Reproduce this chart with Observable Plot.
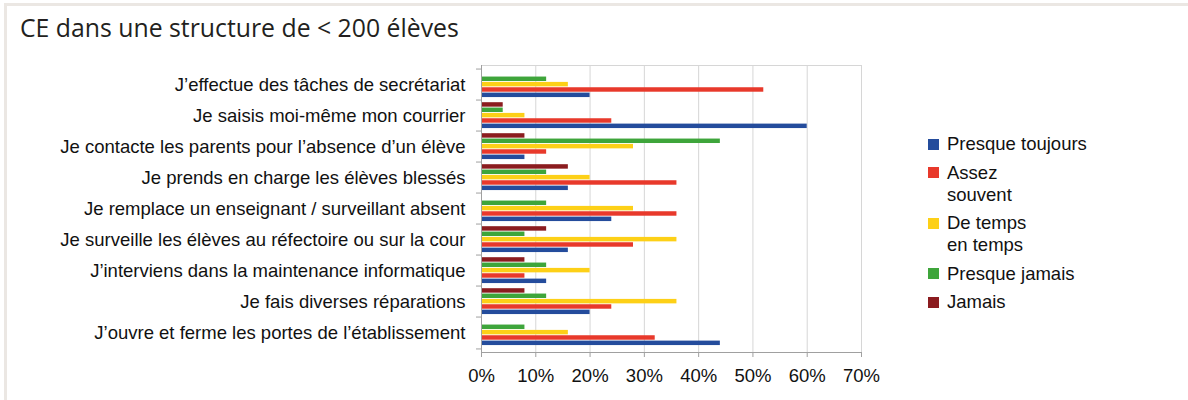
<!DOCTYPE html>
<html><head><meta charset="utf-8">
<script src="https://cdn.jsdelivr.net/npm/d3@7"></script>
<script src="https://cdn.jsdelivr.net/npm/@observablehq/plot@0.6"></script>
<style>
body{margin:0;background:#fff;}
#wrap{position:relative;width:1188px;height:400px;overflow:hidden;background:#fff;}
#frame{position:absolute;left:4px;top:3px;right:-10px;bottom:-10px;border-top:3px solid #ebe7e3;border-left:3px solid #ebe7e3;}
#title{position:absolute;left:20px;top:15px;font-family:"Open Sans";font-size:24.8px;line-height:1;color:#231f20;white-space:nowrap;}
#legend{position:absolute;left:928px;top:133px;font-family:"Liberation Sans",Arial,sans-serif;font-size:18.5px;color:#111;}
.item{display:flex;align-items:flex-start;margin-bottom:6.5px;line-height:22px;}
.sw{width:11px;height:11px;margin-top:5.5px;margin-right:8px;flex:none;}
.lab{white-space:pre-line;}
#chart svg{position:absolute;left:0;top:0;}
</style></head>
<body>
<div id="wrap">
  <div id="frame"></div>
  <div id="chart"></div>
  <div id="title">CE dans une structure de &lt; 200 élèves</div>
  <div id="legend"></div>
</div>
<script>
const categories = [
  "J’effectue des tâches de secrétariat",
  "Je saisis moi-même mon courrier",
  "Je contacte les parents pour l’absence d’un élève",
  "Je prends en charge les élèves blessés",
  "Je remplace un enseignant / surveillant absent",
  "Je surveille les élèves au réfectoire ou sur la cour",
  "J’interviens dans la maintenance informatique",
  "Je fais diverses réparations",
  "J’ouvre et ferme les portes de l’établissement"
];
const series = ["Presque toujours", "Assez souvent", "De temps en temps", "Presque jamais", "Jamais"];
const legendLabels = ["Presque toujours", "Assez\nsouvent", "De temps\nen temps", "Presque jamais", "Jamais"];
const colors = ["#244c9c", "#e8392b", "#fdd017", "#3ea53b", "#8b1c1f"];

const presqueToujours = [20, 60, 8, 16, 24, 16, 12, 20, 44];
const assezSouvent    = [52, 24, 12, 36, 36, 28, 8, 24, 32];
const deTempsEnTemps  = [16, 8, 28, 20, 28, 36, 20, 36, 16];
const presqueJamais   = [12, 4, 44, 12, 12, 8, 12, 12, 8];
const jamais          = [0, 4, 8, 16, 0, 12, 8, 8, 0];
const xTicks = [0, 10, 20, 30, 40, 50, 60, 70];

const values = [presqueToujours, assezSouvent, deTempsEnTemps, presqueJamais, jamais];
const table = [];
categories.forEach((c, ci) => series.forEach((s, si) => table.push({category: c, series: s, value: values[si][ci]})));

const W = 1188, H = 400, mt = 65, mb = 48, ml = 481, mr = 327;
const bandH = (H - mt - mb) / categories.length;
const barH = 5.35, padTop = 2.2;
const drawOrder = [4, 3, 2, 1, 0]; // top to bottom inside each band

const chart = Plot.plot({
  width: W, height: H,
  marginTop: mt, marginBottom: mb, marginLeft: ml, marginRight: mr,
  style: {fontFamily: "'Liberation Sans', Arial, sans-serif", fontSize: "18.5px", color: "#111", background: "transparent"},
  x: {domain: [0, 70], label: null},
  y: {domain: categories, padding: 0, label: null},
  marks: [
    Plot.ruleX(xTicks.slice(1), {stroke: "#d6d6d6"}),
    Plot.frame({anchor: "top", stroke: "#d6d6d6"}),
    ...drawOrder.map((si, pos) => Plot.barX(table.filter(d => d.series === series[si]), {
      x: "value", y: "category", fill: colors[si],
      insetTop: padTop + pos * barH,
      insetBottom: bandH - padTop - (pos + 1) * barH
    })),
    Plot.ruleX([0], {stroke: "#a0a0a0"}),
    Plot.frame({anchor: "bottom", stroke: "#a0a0a0"}),
    Plot.axisX({ticks: xTicks, tickFormat: d => d + "%", tickSize: 5, tickPadding: 11, stroke: "#a0a0a0", label: null}),
    Plot.axisY({tickSize: 0, tickPadding: 16, label: null}),
    Plot.axisY({tickSize: 5, tickFormat: () => "", dy: -bandH / 2, stroke: "#a0a0a0", label: null}),
    Plot.axisY({ticks: [categories[categories.length - 1]], tickSize: 5, tickFormat: () => "", dy: bandH / 2, stroke: "#a0a0a0", label: null})
  ]
});
document.getElementById("chart").appendChild(chart);

const legend = document.getElementById("legend");
series.forEach((s, i) => {
  const item = document.createElement("div");
  item.className = "item";
  const sw = document.createElement("div");
  sw.className = "sw";
  sw.style.background = colors[i];
  const lab = document.createElement("div");
  lab.className = "lab";
  lab.textContent = legendLabels[i];
  item.appendChild(sw); item.appendChild(lab);
  legend.appendChild(item);
});
</script>
</body></html>
